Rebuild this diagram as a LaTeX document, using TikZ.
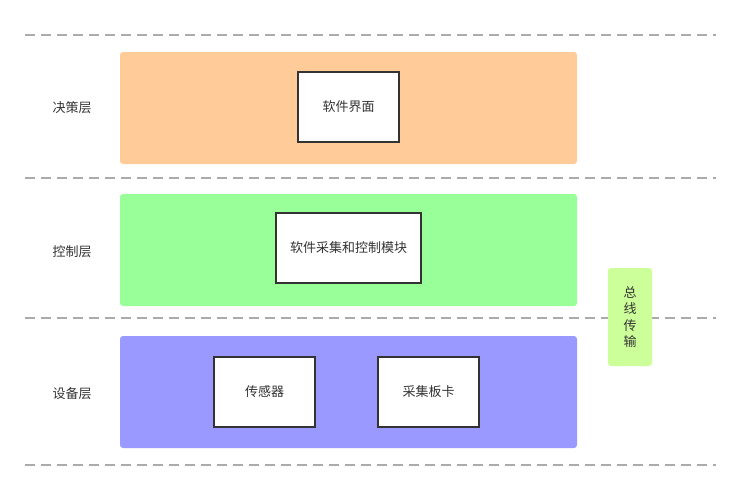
\documentclass[tikz,border=0pt]{standalone}
\usepackage{fontspec}
\setmainfont{Noto Sans CJK SC}
\definecolor{txtgray}{HTML}{333333}
\definecolor{dashgray}{HTML}{AAAAAA}
\definecolor{orangeband}{HTML}{FFCC99}
\definecolor{greenband}{HTML}{99FF99}
\definecolor{blueband}{HTML}{9999FF}
\definecolor{busgreen}{HTML}{CCFF99}
\tikzset{
    band/.style={fill=#1, draw=none, rounded corners=2.25pt,
        minimum width=342.75pt, minimum height=84pt},
    modbox/.style={fill=white, draw=txtgray, line width=1.5pt,
        minimum height=52.5pt, text=txtgray},
    layerlabel/.style={text=txtgray},
}
\begin{document}
\begin{tikzpicture}[x=0.75pt, y=-0.75pt, font=\fontsize{9.75}{12}\selectfont]
    \useasboundingbox (0,0) rectangle (741,501);
    % layer separators
    \foreach \y in {35,178,318,465} {
        \draw[dashgray, line width=1.1pt, dash pattern=on 7.5pt off 4.5pt]
            (25,\y) -- (716,\y);
    }
    % bands
    \node[band=orangeband] (decision) at (348.5,108) {};
    \node[band=greenband] (control) at (348.5,250) {};
    \node[band=blueband] (device) at (348.5,392) {};
    % layer names
    \node[layerlabel] (decisionlbl) at (72,108) {决策层};
    \node[layerlabel] (controllbl) at (72,252) {控制层};
    \node[layerlabel] (devicelbl) at (72,394) {设备层};
    % modules
    \node[modbox, minimum width=75.75pt] (ui) at (348.5,107) {软件界面};
    \node[modbox, minimum width=108.75pt] (acq) at (348.5,248) {软件采集和控制模块};
    \node[modbox, minimum width=75.75pt] (sensor) at (264.5,392) {传感器};
    \node[modbox, minimum width=75.75pt] (card) at (428.5,392) {采集板卡};
    % bus
    \node[fill=busgreen, rounded corners=2.25pt, minimum width=33pt,
        minimum height=73.5pt, text=txtgray, align=center,
        font=\fontsize{9.75}{12.4}\selectfont] (bus) at (630,317)
        {总\\线\\传\\输};
\end{tikzpicture}
\end{document}
